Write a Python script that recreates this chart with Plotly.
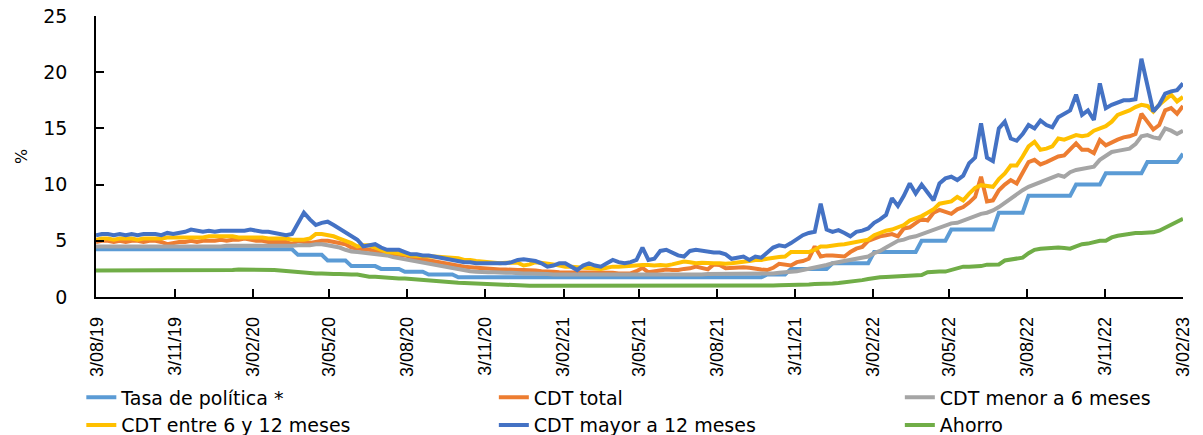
import pandas as pd
import plotly.graph_objects as go

# Weekly dates (Fridays) from 2 Aug 2019 to 3 Feb 2023
dates = pd.date_range("2019-08-02", periods=184, freq="7D")

tasa_politica = [
    4.25, 4.25, 4.25, 4.25, 4.25, 4.25, 4.25, 4.25, 4.25, 4.25,
    4.25, 4.25, 4.25, 4.25, 4.25, 4.25, 4.25, 4.25, 4.25, 4.25,
    4.25, 4.25, 4.25, 4.25, 4.25, 4.25, 4.25, 4.25, 4.25, 4.25,
    4.25, 4.25, 4.25, 4.25, 3.75, 3.75, 3.75, 3.75, 3.75, 3.25,
    3.25, 3.25, 3.25, 2.75, 2.75, 2.75, 2.75, 2.75, 2.5, 2.5,
    2.5, 2.5, 2.25, 2.25, 2.25, 2.25, 2.0, 2.0, 2.0, 2.0,
    2.0, 1.75, 1.75, 1.75, 1.75, 1.75, 1.75, 1.75, 1.75, 1.75,
    1.75, 1.75, 1.75, 1.75, 1.75, 1.75, 1.75, 1.75, 1.75, 1.75,
    1.75, 1.75, 1.75, 1.75, 1.75, 1.75, 1.75, 1.75, 1.75, 1.75,
    1.75, 1.75, 1.75, 1.75, 1.75, 1.75, 1.75, 1.75, 1.75, 1.75,
    1.75, 1.75, 1.75, 1.75, 1.75, 1.75, 1.75, 1.75, 1.75, 1.75,
    1.75, 1.75, 1.75, 2.0, 2.0, 2.0, 2.0, 2.5, 2.5, 2.5,
    2.5, 2.5, 2.5, 2.5, 3.0, 3.0, 3.0, 3.0, 3.0, 3.0,
    3.0, 4.0, 4.0, 4.0, 4.0, 4.0, 4.0, 4.0, 4.0, 5.0,
    5.0, 5.0, 5.0, 5.0, 6.0, 6.0, 6.0, 6.0, 6.0, 6.0,
    6.0, 6.0, 7.5, 7.5, 7.5, 7.5, 7.5, 9.0, 9.0, 9.0,
    9.0, 9.0, 9.0, 9.0, 9.0, 10.0, 10.0, 10.0, 10.0, 10.0,
    11.0, 11.0, 11.0, 11.0, 11.0, 11.0, 11.0, 12.0, 12.0, 12.0,
    12.0, 12.0, 12.0, 12.75,
]

cdt_total = [
    4.9, 5.0, 5.0, 4.9, 5.0, 4.9, 5.0, 5.0, 4.9, 5.0,
    5.0, 4.9, 4.7, 4.8, 4.9, 4.9, 5.0, 4.9, 5.0, 5.0,
    5.0, 5.1, 5.0, 5.1, 5.1, 5.2, 5.1, 5.0, 5.0, 4.9,
    4.9, 4.9, 4.9, 4.7, 5.0, 4.9, 4.8, 4.9, 5.0, 5.0,
    4.9, 4.8, 4.7, 4.4, 4.3, 4.25, 4.2, 4.1, 4.0, 3.85,
    3.8, 3.75, 3.7, 3.55, 3.4, 3.35, 3.25, 3.2, 3.1, 3.0,
    2.9, 2.8, 2.7, 2.65, 2.6, 2.55, 2.5, 2.5, 2.45, 2.45,
    2.4, 2.4, 2.4, 2.4, 2.35, 2.3, 2.3, 2.25, 2.2, 2.2,
    2.2, 2.2, 2.2, 2.2, 2.2, 2.2, 2.15, 2.15, 2.1, 2.1,
    2.1, 2.3, 2.6, 2.2, 2.3, 2.4, 2.45, 2.4, 2.4, 2.5,
    2.55, 2.7, 2.6, 2.46, 2.9, 2.85, 2.55, 2.6, 2.6, 2.65,
    2.6, 2.5, 2.45, 2.4, 2.6, 2.96, 2.9, 2.8, 3.1, 3.2,
    3.4, 4.5, 3.6, 3.7, 3.7, 3.65, 3.6, 4.0, 4.3, 4.45,
    5.0, 5.2, 5.4, 5.5, 5.6, 5.4, 6.1, 6.2, 6.6, 6.95,
    6.8, 7.5, 7.75, 7.6, 7.4, 7.8, 8.0, 8.4, 8.9, 10.7,
    8.5, 8.6, 9.5, 10.0, 10.4, 10.1, 11.0, 12.0, 12.2, 11.8,
    12.0, 12.3, 12.5, 12.6, 13.2, 13.67, 13.1, 13.1, 12.8, 13.97,
    13.5, 13.8, 14.0, 14.2, 14.3, 14.5, 16.3, 15.6, 14.9, 15.3,
    16.6, 16.8, 16.3, 17.0,
]

cdt_menor_6 = [
    4.5, 4.5, 4.5, 4.5, 4.5, 4.5, 4.5, 4.5, 4.5, 4.5,
    4.5, 4.5, 4.5, 4.5, 4.45, 4.5, 4.5, 4.5, 4.5, 4.5,
    4.5, 4.5, 4.55, 4.55, 4.5, 4.55, 4.55, 4.5, 4.5, 4.5,
    4.5, 4.5, 4.5, 4.55, 4.6, 4.6, 4.6, 4.7, 4.7, 4.6,
    4.5, 4.4, 4.2, 4.05, 4.0, 3.95, 3.9, 3.85, 3.8, 3.7,
    3.55, 3.45, 3.35, 3.25, 3.2, 3.1, 3.0, 2.9, 2.8, 2.7,
    2.6, 2.5, 2.4, 2.3, 2.25, 2.2, 2.2, 2.2, 2.15, 2.15,
    2.15, 2.1, 2.1, 2.1, 2.1, 2.05, 2.05, 2.0, 2.0, 2.0,
    2.0, 1.95, 1.95, 1.95, 1.95, 1.93, 1.93, 1.93, 1.93, 1.95,
    1.95, 1.95, 1.95, 1.95, 1.95, 1.95, 1.95, 1.95, 2.0, 2.0,
    2.0, 2.0, 2.0, 2.05, 2.05, 2.05, 2.05, 2.05, 2.05, 2.1,
    2.1, 2.1, 2.1, 2.1, 2.1, 2.15, 2.2, 2.2, 2.3, 2.4,
    2.5, 2.6, 2.7, 2.85, 3.0, 3.1, 3.2, 3.3, 3.4, 3.5,
    3.6, 3.9, 4.1, 4.4, 4.7, 5.0, 5.1, 5.3, 5.4, 5.6,
    5.8, 6.0, 6.2, 6.4, 6.55, 6.6, 6.8, 7.0, 7.2, 7.4,
    7.5, 7.7, 8.0, 8.4, 8.8, 9.1, 9.5, 9.8, 10.0, 10.2,
    10.4, 10.6, 10.85, 10.7, 11.1, 11.3, 11.4, 11.5, 11.6, 12.2,
    12.5, 12.9, 13.0, 13.1, 13.2, 13.6, 14.3, 14.4, 14.2, 14.1,
    15.0, 14.8, 14.5, 14.8,
]

cdt_6_12 = [
    5.1, 5.2, 5.2, 5.1, 5.2, 5.2, 5.2, 5.1, 5.2, 5.2,
    5.2, 5.2, 5.3, 5.3, 5.3, 5.3, 5.3, 5.3, 5.3, 5.4,
    5.4, 5.4, 5.4, 5.4, 5.3, 5.3, 5.3, 5.3, 5.3, 5.2,
    5.2, 5.2, 5.2, 5.1, 5.1, 5.1, 5.2, 5.6, 5.6, 5.5,
    5.4, 5.2, 5.0, 4.8, 4.5, 4.6, 4.6, 4.4, 4.2, 4.0,
    3.95, 3.9, 3.8, 3.7, 3.65, 3.6, 3.6, 3.6, 3.55, 3.5,
    3.5, 3.45, 3.3, 3.3, 3.2, 3.15, 3.1, 3.05, 3.0, 3.05,
    3.05, 3.05, 2.8, 2.9, 3.1, 3.05, 3.0, 2.9, 2.8, 2.7,
    2.7, 2.65, 2.65, 2.6, 2.55, 2.5, 2.6, 2.7, 2.7, 2.75,
    2.8, 2.8, 2.85, 2.85, 2.8, 2.85, 2.8, 2.9, 3.0, 3.15,
    3.1, 3.0, 3.05, 3.0, 3.0, 3.0, 2.95, 3.0, 3.05, 3.1,
    3.2, 3.3, 3.3, 3.4, 3.5, 3.55, 3.6, 4.0, 4.0, 4.0,
    4.0, 4.2, 4.5, 4.5, 4.6, 4.65, 4.7, 4.8, 4.9, 5.0,
    5.1, 5.5, 5.7, 5.9, 6.0, 6.2, 6.4, 6.8, 7.0, 7.2,
    7.5, 7.8, 8.3, 8.4, 8.5, 8.9, 8.6, 9.2, 9.7, 9.95,
    9.9, 9.8, 10.5, 11.0, 11.7, 11.7, 12.5, 13.4, 13.8, 13.1,
    13.2, 13.4, 14.1, 14.0, 14.2, 14.4, 14.3, 14.4, 14.8, 15.0,
    15.2, 15.6, 16.2, 16.4, 16.6, 16.9, 17.1, 17.0, 16.5, 17.1,
    17.6, 18.0, 17.4, 17.8,
]

cdt_mayor_12 = [
    5.5, 5.6, 5.6, 5.5, 5.6, 5.5, 5.6, 5.5, 5.6, 5.6,
    5.6, 5.5, 5.7, 5.6, 5.7, 5.8, 6.0, 5.9, 5.8, 5.9,
    5.8, 5.9, 5.9, 5.9, 5.9, 5.9, 6.0, 5.9, 5.8, 5.8,
    5.7, 5.6, 5.5, 5.6, 6.6, 7.5, 6.9, 6.4, 6.6, 6.7,
    6.4, 6.1, 5.7, 5.4, 5.1, 4.5, 4.6, 4.7, 4.4, 4.2,
    4.2, 4.2, 4.0, 3.8, 3.8, 3.7, 3.7, 3.6, 3.5, 3.4,
    3.3, 3.2, 3.1, 3.1, 3.0, 3.0, 3.0, 2.95, 2.95, 3.0,
    3.1, 3.3, 3.35, 3.3, 3.2, 3.0, 2.7, 2.8, 3.0, 3.0,
    2.7, 2.4, 2.8, 3.0, 2.8, 2.7, 3.0, 3.3, 3.1, 3.0,
    3.1, 3.3, 4.4, 3.3, 3.4, 4.1, 4.2, 3.9, 3.7, 3.6,
    4.1, 4.2, 4.1, 4.0, 3.95, 3.95, 3.8, 3.4, 3.5, 3.6,
    3.3, 3.6, 3.5, 3.9, 4.4, 4.6, 4.5, 4.8, 5.2, 5.5,
    5.7, 5.8, 8.3, 6.0, 5.8, 5.95, 5.7, 5.4, 5.8, 5.9,
    6.1, 6.6, 6.9, 7.3, 8.8, 8.1, 9.0, 10.1, 9.2, 10.0,
    9.3, 8.6, 10.1, 10.55, 10.7, 10.4, 10.8, 11.9, 12.4, 15.45,
    12.4, 12.1, 15.0, 15.6, 14.1, 13.9, 14.5, 15.3, 15.0, 15.7,
    15.3, 15.1, 16.0, 16.3, 16.6, 18.0, 16.2, 16.6, 15.75, 19.0,
    16.8, 17.1, 17.3, 17.5, 17.5, 17.6, 21.2, 18.8, 16.5, 17.1,
    18.1, 18.3, 18.4, 19.0,
]

ahorro = [
    2.35, 2.35, 2.35, 2.35, 2.35, 2.35, 2.35, 2.35, 2.4, 2.4,
    2.4, 2.4, 2.4, 2.35, 2.4, 2.4, 2.4, 2.4, 2.4, 2.4,
    2.35, 2.4, 2.4, 2.4, 2.45, 2.45, 2.4, 2.45, 2.45, 2.45,
    2.4, 2.35, 2.3, 2.25, 2.2, 2.15, 2.1, 2.1, 2.1, 2.05,
    2.05, 2.05, 2.0, 2.0, 2.0, 1.9, 1.8, 1.8, 1.75, 1.75,
    1.7, 1.65, 1.65, 1.6, 1.6, 1.55, 1.5, 1.45, 1.4, 1.35,
    1.3, 1.27, 1.25, 1.22, 1.2, 1.2, 1.15, 1.12, 1.1, 1.08,
    1.05, 1.05, 1.02, 1.0, 1.0, 1.0, 1.0, 1.0, 1.0, 1.0,
    1.0, 1.0, 0.98, 0.98, 0.97, 0.97, 0.96, 0.96, 0.95, 0.95,
    0.95, 0.95, 0.95, 0.95, 0.95, 0.95, 0.95, 0.95, 0.95, 0.95,
    0.96, 0.97, 0.97, 0.98, 0.98, 0.98, 0.98, 0.98, 0.98, 0.98,
    0.98, 0.98, 1.0, 1.0, 1.02, 1.05, 1.05, 1.08, 1.1, 1.12,
    1.12, 1.15, 1.15, 1.2, 1.2, 1.25, 1.3, 1.35, 1.45, 1.5,
    1.6, 1.7, 1.75, 1.78, 1.8, 1.82, 1.85, 1.87, 1.9, 1.95,
    2.2, 2.25, 2.26, 2.26, 2.4, 2.6, 2.7, 2.7, 2.7, 2.75,
    2.88, 2.88, 2.9, 3.25, 3.35, 3.4, 3.5, 3.9, 4.2, 4.3,
    4.35, 4.4, 4.4, 4.35, 4.3, 4.5, 4.7, 4.75, 4.9, 5.0,
    5.0, 5.3, 5.45, 5.55, 5.6, 5.7, 5.7, 5.75, 5.75, 5.9,
    6.2, 6.5, 6.7, 6.95,
]

series_names = [
    "Tasa de política *",
    "CDT total",
    "CDT menor a 6 meses",
    "CDT entre 6 y 12 meses",
    "CDT mayor a 12 meses",
    "Ahorro",
]
series_values = [tasa_politica, cdt_total, cdt_menor_6, cdt_6_12, cdt_mayor_12, ahorro]
series_colors = ["#5B9BD5", "#ED7D31", "#A5A5A5", "#FFC000", "#4472C4", "#70AD47"]
series_legend = ["legend", "legend2", "legend3", "legend", "legend2", "legend3"]

for v in series_values:
    assert len(v) == len(dates), len(v)

fig = go.Figure()
for name, vals, col, lg in zip(series_names, series_values, series_colors, series_legend):
    fig.add_trace(go.Scatter(
        x=dates, y=vals, mode="lines", name=name,
        line=dict(color=col, width=4),
        legend=lg,
    ))

legend_font = dict(family="DejaVu Sans, Verdana, sans-serif", size=19, color="#000000")
common_legend = dict(
    orientation="v", xanchor="left", yanchor="top", y=-0.29,
    font=legend_font, bgcolor="rgba(0,0,0,0)", borderwidth=0,
    tracegroupgap=0, itemwidth=30,
)

fig.update_layout(
    width=1203, height=435,
    margin=dict(l=96, r=20, t=16, b=138, autoexpand=False),
    paper_bgcolor="white", plot_bgcolor="white",
    legend=dict(common_legend, x=-0.0135),
    legend2=dict(common_legend, x=0.366),
    legend3=dict(common_legend, x=0.7395),
    xaxis=dict(
        type="date",
        automargin=False,
        range=["2019-08-02", "2023-02-03"],
        tick0="2019-08-03", dtick="M3",
        tickformat="%-d/%m/%y",
        tickangle=-90,
        ticks="inside", ticklen=8, tickwidth=1.5, tickcolor="#000000",
        showline=True, linecolor="#000000", linewidth=1.5,
        showgrid=False, zeroline=False,
        tickfont=dict(family="Liberation Sans, Arial, sans-serif", size=18, color="#000000"),
        ticklabelstandoff=11,
        ticklabeloverflow="allow",
    ),
    yaxis=dict(
        automargin=False,
        range=[0, 25], dtick=5, tick0=0,
        ticks="inside", ticklen=8, tickwidth=1.5, tickcolor="#000000",
        showline=True, linecolor="#000000", linewidth=1.5,
        showgrid=False, zeroline=False,
        tickfont=dict(family="DejaVu Sans, Verdana, sans-serif", size=19, color="#000000"),
        ticklabelstandoff=23,
        ticklabeloverflow="allow",
        title=dict(text="%", font=dict(family="DejaVu Sans, sans-serif", size=16, color="#000000"),
                   standoff=12),
    ),
)

fig.write_html(
    "out.html",
    config={"displayModeBar": False},
    post_script="document.body.style.margin='0px';",
)
